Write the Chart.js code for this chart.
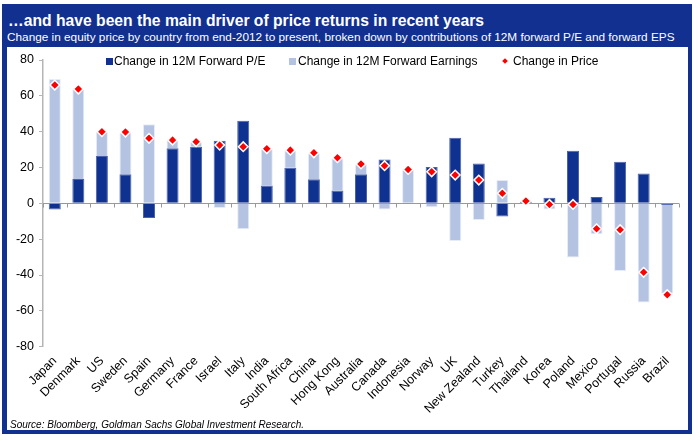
<!DOCTYPE html>
<html>
<head>
<meta charset="utf-8">
<script src="https://cdn.jsdelivr.net/npm/chart.js@4.4.1/dist/chart.umd.min.js"></script>
<style>
  html,body{margin:0;padding:0;}
  body{width:700px;height:442px;position:relative;background:#fff;overflow:hidden;font-family:"Liberation Sans",Arial,sans-serif;}
  #frame{position:absolute;left:2px;top:4px;width:690px;height:430px;background:#12308f;}
  #panel{position:absolute;left:7px;top:47px;width:681px;height:383px;background:#fff;}
  #title{position:absolute;left:8px;top:12.5px;font-size:15.7px;line-height:16px;font-weight:bold;color:#fff;white-space:nowrap;}
  #sub{position:absolute;left:7px;top:30.7px;font-size:11.8px;line-height:12px;color:#fff;white-space:nowrap;}
  #source{position:absolute;left:10px;top:420px;font-size:10px;line-height:10px;font-style:italic;color:#000;white-space:nowrap;}
  .lg{position:absolute;top:55px;font-size:12px;line-height:12px;color:#000;white-space:nowrap;}
  .box{position:absolute;width:7px;height:7px;top:58px;}
  .dia{position:absolute;width:4px;height:4px;top:59px;background:#ff0000;transform:rotate(45deg);}
  #wrap{position:absolute;left:0;top:0;width:700px;height:442px;}
</style>
</head>
<body>
<div id="frame"></div>
<div id="panel"></div>
<div id="title">…and have been the main driver of price returns in recent years</div>
<div id="sub">Change in equity price by country from end-2012 to present, broken down by contributions of 12M forward P/E and forward EPS</div>
<div id="wrap"><canvas id="c" width="700" height="442"></canvas></div>
<div class="box" id="b1" style="left:106px;"></div>
<div class="lg" id="l1" style="left:114px;"></div>
<div class="box" id="b2" style="left:289px;"></div>
<div class="lg" id="l2" style="left:298px;"></div>
<div class="dia" style="left:503px;"></div>
<div class="lg" id="l3" style="left:513px;"></div>
<div id="source">Source: Bloomberg, Goldman Sachs Global Investment Research.</div>
<script>
const categories = ['Japan','Denmark','US','Sweden','Spain','Germany','France','Israel','Italy','India','South Africa','China','Hong Kong','Australia','Canada','Indonesia','Norway','UK','New Zealand','Turkey','Thailand','Korea','Poland','Mexico','Portugal','Russia','Brazil'];
const peChange = [-3.4, 13.6, 26.4, 16.3, -8.2, 30.7, 31.6, 35.0, 46.1, 9.9, 19.9, 13.4, 7.2, 16.2, 24.5, 0, 20.3, 36.6, 22.3, -7.4, 0.8, 3.1, 29.4, 3.5, 23.2, 16.7, -0.9];
const earningsChange = [69.4, 50.2, 13.6, 23.3, 44.2, 4.6, 2.6, -2.6, -14.5, 20.4, 9.8, 14.5, 17.9, 5.6, -3.4, 18.6, -2.2, -21.0, -9.3, 13.0, 0.5, -3.4, -30.2, -17.3, -37.8, -55.3, -49.6];
const priceChange = [66.0, 63.8, 40.0, 39.8, 36.3, 35.3, 34.4, 32.5, 31.6, 30.5, 29.7, 28.2, 25.5, 22.0, 21.0, 18.9, 17.6, 15.8, 13.0, 5.6, 1.3, -0.6, -0.6, -14.2, -14.7, -38.5, -51.0];
const seriesNames = ['Change in 12M Forward P/E','Change in 12M Forward Earnings','Change in Price'];
const yMin = -80, yMax = 80, yStep = 20;

const DARK = '#0f318f', LIGHT = '#b3c3e1', RED = '#ff0000';

document.getElementById('l1').textContent = seriesNames[0];
document.getElementById('l2').textContent = seriesNames[1];
document.getElementById('l3').textContent = seriesNames[2];
document.getElementById('b1').style.background = DARK;
document.getElementById('b2').style.background = LIGHT;

const zeroAxis = {
  id: 'zeroAxis',
  beforeDatasetsDraw(chart) {
    const {ctx, chartArea: a, scales: {x, y}} = chart;
    const y0 = Math.round(y.getPixelForValue(0)) + 0.5;
    const n = categories.length;
    const w = (x.getPixelForValue(n - 1) - x.getPixelForValue(0)) / (n - 1);
    ctx.save();
    ctx.strokeStyle = '#999';
    ctx.lineWidth = 1;
    ctx.beginPath();
    ctx.moveTo(a.left, y0); ctx.lineTo(a.right, y0);
    for (let i = 0; i <= n; i++) {
      const px = Math.round(x.getPixelForValue(i) - w / 2) + 0.5;
      ctx.moveTo(px, y0); ctx.lineTo(px, y0 + 4);
    }
    ctx.stroke();
    ctx.restore();
  }
};

Chart.defaults.font.family = '"Liberation Sans", Arial, sans-serif';
Chart.defaults.color = '#000';

new Chart(document.getElementById('c'), {
  type: 'bar',
  data: {
    labels: categories,
    datasets: [
      {label: seriesNames[0], data: peChange, backgroundColor: DARK, borderColor: '#4a62ab', borderWidth: 1, stack: 's', order: 1,
       categoryPercentage: 1, barPercentage: 0.51},
      {label: seriesNames[1], data: earningsChange, backgroundColor: LIGHT, borderColor: '#e6ecf6', borderWidth: 1, stack: 's', order: 1,
       categoryPercentage: 1, barPercentage: 0.51},
      {type: 'line', label: seriesNames[2], data: priceChange, showLine: false, stack: 'p', order: 0,
       pointStyle: 'rectRot', pointRadius: 4.8, pointHoverRadius: 4.8, pointBackgroundColor: RED, pointBorderColor: '#fff', pointBorderWidth: 1.5}
    ]
  },
  options: {
    responsive: false,
    animation: false,
    layout: {padding: {left: 0, top: 60, right: 21, bottom: 0}},
    plugins: {legend: {display: false}, tooltip: {enabled: false}},
    scales: {
      x: {
        stacked: true,
        grid: {display: false, drawTicks: false},
        border: {display: false},
        ticks: {minRotation: 45, maxRotation: 45, autoSkip: false, font: {size: 12.5}, padding: 7, color: '#000'},
        afterFit: s => { s.height = 95.3; }
      },
      y: {
        stacked: true,
        min: yMin, max: yMax,
        ticks: {stepSize: yStep, font: {size: 12.5}, padding: 5, color: '#000'},
        grid: {drawOnChartArea: false, drawTicks: true, tickLength: 4, color: '#b5b5b5'},
        border: {display: true, color: '#b5b5b5', width: 1.5},
        afterFit: s => { s.width = 43; }
      }
    }
  },
  plugins: [zeroAxis]
});
</script>
</body>
</html>
